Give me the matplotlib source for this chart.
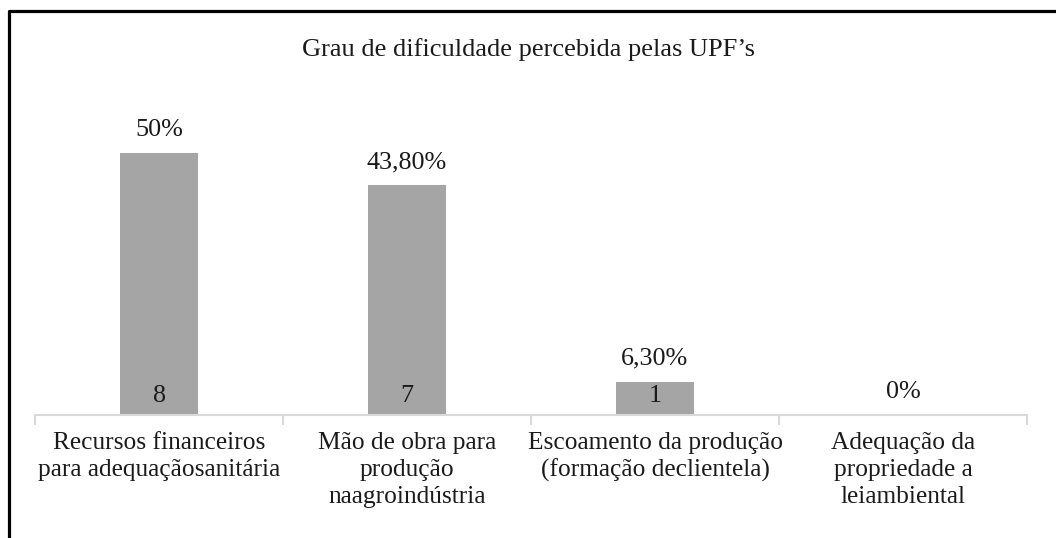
import matplotlib.pyplot as plt
from matplotlib.lines import Line2D
import numpy as np

plt.rcParams['font.family'] = ['Liberation Serif', 'DejaVu Serif']

categorias = ['Recursos financeiros\npara adequaçãosanitária',
              'Mão de obra para\nprodução\nnaagroindústria',
              'Escoamento da produção\n(formação declientela)',
              'Adequação da\npropriedade a\nleiambiental']
percentual = [50, 43.8, 6.3, 0]
rotulos_pct = ['50%', '43,80%', '6,30%', '0%']
contagem = [8, 7, 1, 0]

W, H = 1056, 538
fig = plt.figure(figsize=(W/100, H/100), dpi=100)
ax = fig.add_axes([35/W, 1-415/H, (1027-35)/W, (415-100.6)/H])

x = np.arange(len(categorias))
bars = ax.bar(x, percentual, width=0.315, color='#a5a5a5', zorder=2)
ax.set_xlim(-0.5, len(categorias)-0.5)
ax.set_ylim(0, 60)

for i, b in enumerate(bars):
    ax.annotate(rotulos_pct[i], (b.get_x()+b.get_width()/2, b.get_height()),
                xytext=(0, 9), textcoords='offset points', ha='center',
                va='bottom', fontsize=18.8, color='#1a1a1a')
    if contagem[i] > 0:
        ax.annotate(str(contagem[i]), (b.get_x()+b.get_width()/2, 0),
                    xytext=(0, 6), textcoords='offset points', ha='center',
                    va='bottom', fontsize=18.8, color='#1a1a1a')

for s in ['top', 'right', 'left']:
    ax.spines[s].set_visible(False)
ax.spines['bottom'].set_color('#d9d9d9')
ax.spines['bottom'].set_linewidth(1.5)
ax.set_yticks([])
ax.set_xticks(x)
ax.set_xticklabels(categorias, fontsize=18.3, color='#1a1a1a', linespacing=1.3)
ax.tick_params(axis='x', length=0, pad=12)
ax.set_xticks(np.arange(len(categorias)+1)-0.5, minor=True)
ax.tick_params(axis='x', which='minor', length=7, width=1.5, color='#d9d9d9')

fig.text(0.5, 1-50/H, 'Grau de dificuldade percebida pelas UPF’s',
         ha='center', va='center', fontsize=19, color='#1a1a1a')

# moldura
fig.add_artist(Line2D([9/W, 9/W, 1.01], [-0.01, 1-11/H, 1-11/H],
                      transform=fig.transFigure, color='black', lw=2.3))

fig.savefig('out.png', dpi=100)
